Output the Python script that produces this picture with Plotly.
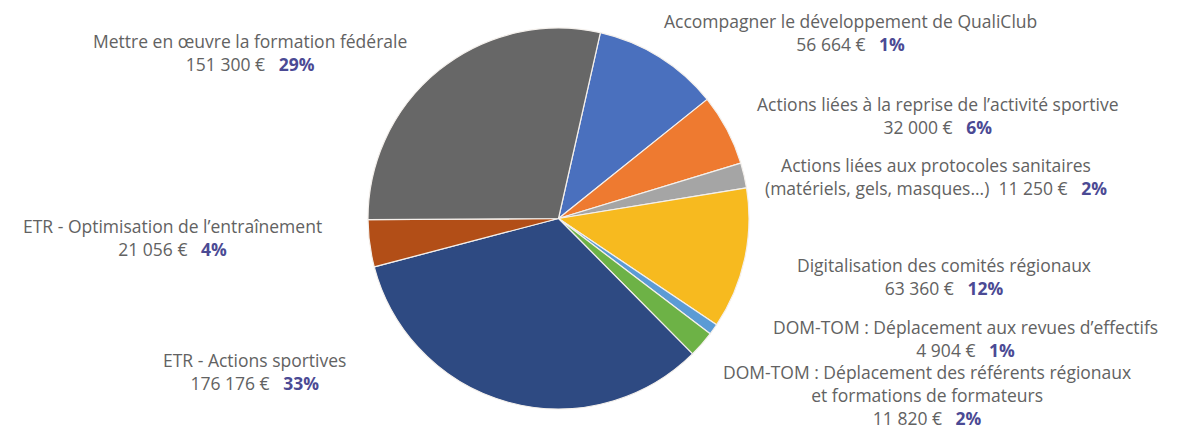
import plotly.graph_objects as go

categories = [
    "Accompagner le développement de QualiClub",
    "Actions liées à la reprise de l’activité sportive",
    "Actions liées aux protocoles sanitaires (matériels, gels, masques...)",
    "Digitalisation des comités régionaux",
    "DOM-TOM : Déplacement aux revues d’effectifs",
    "DOM-TOM : Déplacement des référents régionaux et formations de formateurs",
    "ETR - Actions sportives",
    "ETR - Optimisation de l’entraînement",
    "Mettre en œuvre la formation fédérale",
]
values = [56664, 32000, 11250, 63360, 4904, 11820, 176176, 21056, 151300]
amount_labels = ["56 664 €", "32 000 €", "11 250 €", "63 360 €", "4 904 €", "11 820 €",
                 "176 176 €", "21 056 €", "151 300 €"]
pct_labels = ["1%", "6%", "2%", "12%", "1%", "2%", "33%", "4%", "29%"]
label_lines = [
    ["Accompagner le développement de QualiClub"],
    ["Actions liées à la reprise de l’activité sportive"],
    ["Actions liées aux protocoles sanitaires", "(matériels, gels, masques...)"],
    ["Digitalisation des comités régionaux"],
    ["DOM-TOM : Déplacement aux revues d’effectifs"],
    ["DOM-TOM : Déplacement des référents régionaux", "et formations de formateurs"],
    ["ETR - Actions sportives"],
    ["ETR - Optimisation de l’entraînement"],
    ["Mettre en œuvre la formation fédérale"],
]
colors = ["#4A70BE", "#EE7A30", "#A5A5A5", "#F7BA1F", "#5B9BD5", "#6DB246",
          "#2E4A82", "#B24E17", "#676767"]

W, H = 1182, 428
OFF = 8  # page body margin
# block centres (pixels)
label_x = [850, 938, 936, 944, 965, 927, 254, 172, 250]
label_y = [32, 115, 176, 276, 338, 395, 371, 237, 52]
amount_inline = [False, False, True, False, False, False, False, False, False]

fig = go.Figure(go.Pie(
    labels=categories, values=values, sort=False, direction="clockwise",
    rotation=12.7, marker=dict(colors=colors, line=dict(color="#F4F0EC", width=1.2)),
    textinfo="none", hoverinfo="label+value", showlegend=False,
    domain=dict(x=[(367 - OFF) / W, (750 - OFF) / W],
                y=[1 - (409 - OFF) / H, 1 - (28 - OFF) / H]),
))

pct_color = "#4B4A94"
font = dict(family="Open Sans", size=17.5, color="#626262")
NB = "\u00a0"
for i, lines in enumerate(label_lines):
    val = f"{amount_labels[i]}{NB*3}<b><span style='color:{pct_color}'>{pct_labels[i]}</span></b>"
    if amount_inline[i]:
        rows = lines[:-1] + [lines[-1] + NB * 2 + val]
    else:
        rows = lines + [val]
    fig.add_annotation(x=(label_x[i] - OFF) / W, y=1 - (label_y[i] - OFF) / H,
                       xref="paper", yref="paper", text="<br>".join(rows),
                       showarrow=False, align="center",
                       xanchor="center", yanchor="middle", font=font)

fig.update_layout(width=W, height=H, margin=dict(l=0, r=0, t=0, b=0),
                  paper_bgcolor="white", plot_bgcolor="white")
fig.write_html("out.html")
